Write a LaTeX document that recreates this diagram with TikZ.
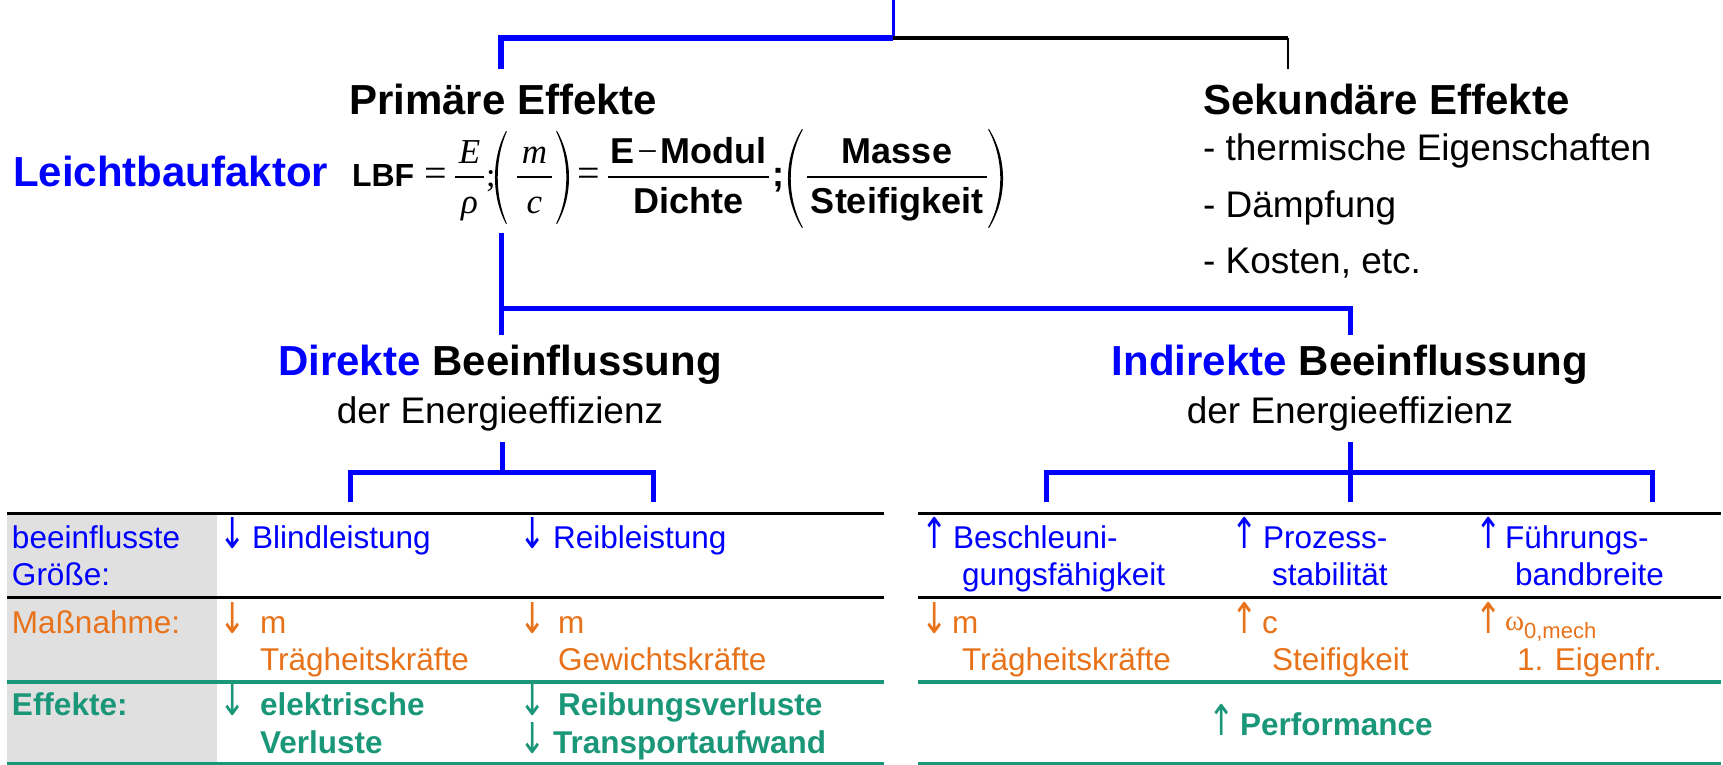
\documentclass[tikz,border=0pt]{standalone}
\usepackage{graphicx}
\usepackage{fontspec}
\setmainfont{Liberation Sans}
\newfontfamily\tms{Liberation Serif}
\newfontfamily\arr{DejaVu Sans}
\newcommand{\dnarr}{\raisebox{0pt}[\height][0pt]{\scalebox{1}[1.35]{↓}}}
\newcommand{\uparr}{\raisebox{0pt}[\height][0pt]{\scalebox{1}[1.35]{↑}}}
\definecolor{myblue}{RGB}{0,0,255}
\definecolor{myorange}{RGB}{232,114,26}
\definecolor{mygreen}{RGB}{26,150,120}
\definecolor{mygray}{RGB}{224,224,224}
\begin{document}
\begin{tikzpicture}[x=1pt,y=-1pt,
  lbl/.style={anchor=base west, inner sep=0pt, outer sep=0pt},
  ctr/.style={anchor=base, inner sep=0pt, outer sep=0pt},
  headfont/.style={font=\fontsize{42}{48}\selectfont\bfseries},
  subfont/.style={font=\fontsize{37}{44}\selectfont},
  tabfont/.style={lbl, font=\fontsize{31.5}{37}\selectfont},
  tabbold/.style={lbl, font=\fontsize{31.5}{37}\selectfont\bfseries},
  arrow/.style={lbl, font=\arr\fontsize{31.5}{37}\selectfont},
  mathit/.style={ctr, font=\tms\itshape\fontsize{35}{40}\selectfont},
  mathbf/.style={ctr, font=\fontsize{36}{40}\selectfont\bfseries},
  fbar/.style={draw=black, line width=1.5pt},
  thickblue/.style={draw=myblue, line width=6pt},
  midblue/.style={draw=myblue, line width=5pt},
  blkline/.style={draw=black, line width=3pt},
  grnline/.style={draw=mygreen, line width=4pt}]
\useasboundingbox (0,0) rectangle (1723,765);

% ---------- top bracket ----------
\coordinate (t0) at (893,0);
\coordinate (tj) at (893,38);
\coordinate (tl) at (501,38);
\coordinate (tlb) at (501,69);
\coordinate (tr) at (1288,38);
\coordinate (trb) at (1288,69);
\draw[myblue, line width=3pt] (t0) -- (tj);
\draw[black, line width=3.5pt] (tj) -- (tr);
\draw[black, line width=2pt] (tr) -- (trb);
\draw[thickblue, miter limit=10] (tlb) -- (tl) -- (tj);

% ---------- primary / secondary ----------
\node[lbl, headfont] (prim) at (349,115) {Primäre Effekte};
\node[lbl, headfont] (sek) at (1203,115) {Sekundäre Effekte};
\node[lbl, subfont] (s1) at (1203,160) {- thermische Eigenschaften};
\node[lbl, subfont] (s2) at (1203,217) {- Dämpfung};
\node[lbl, subfont] (s3) at (1203,273) {- Kosten, etc.};
\node[lbl, headfont, text=myblue] (lbfname) at (13,186) {Leichtbaufaktor};

% ---------- formula ----------
\node[lbl, font=\fontsize{32}{36}\selectfont\bfseries] (lbf) at (352,186) {LBF};
\node[ctr, font=\tms\fontsize{40}{40}\selectfont] (eq1) at (435.5,186) {=};
\node[mathit] (fE) at (469.5,163) {E};
\draw[fbar] (455,177) -- (484,177);
\node[mathit] (frho) at (469.5,213) {ρ};
\node[lbl, font=\tms\fontsize{34}{40}\selectfont] (semi1) at (486,186) {;};
\fill (506,131) .. controls (491.3,159) and (491.3,196) .. (506,224) -- (506.8,223.5) .. controls (494.7,196) and (494.7,159) .. (506.8,131.5) -- cycle;
\node[mathit] (fm) at (534.5,163) {m};
\draw[fbar] (517,177) -- (552,177);
\node[mathit] (fc) at (534.5,213) {c};
\fill (557,131) .. controls (573,159) and (573,196) .. (557,224) -- (556.2,223.5) .. controls (569.7,196) and (569.7,159) .. (556.2,131.5) -- cycle;
\node[ctr, font=\tms\fontsize{40}{40}\selectfont] (eq2) at (588.5,186) {=};
\node[mathbf] (fnum3) at (688.5,163) {E\hspace{3pt}{\tms\mdseries −}\hspace{3pt}Modul};
\draw[fbar] (608,177) -- (769,177);
\node[mathbf] (fden3) at (688.5,213) {Dichte};
\node[lbl, font=\fontsize{36}{40}\selectfont\bfseries] (semi2) at (772,186) {;};
\fill (802,129) .. controls (783.3,159) and (783.3,198) .. (802,228) -- (802.8,227.5) .. controls (786.7,198) and (786.7,159) .. (802.8,129.5) -- cycle;
\node[mathbf] (fnum4) at (897,163) {Masse};
\draw[fbar] (807,177) -- (987,177);
\node[mathbf] (fden4) at (897,213) {Steifigkeit};
\fill (989,129) .. controls (1007.7,159) and (1007.7,198) .. (989,228) -- (988.2,227.5) .. controls (1004.3,198) and (1004.3,159) .. (988.2,129.5) -- cycle;

% ---------- second bracket ----------
\coordinate (p0) at (501,233);
\coordinate (pj) at (501,308);
\coordinate (pr) at (1350,308);
\coordinate (pl) at (501,335);
\coordinate (prb) at (1350,335);
\draw[midblue] (p0) -- (pl);
\draw[midblue] (pj) -- (pr) -- (prb);

% ---------- direct / indirect ----------
\node[ctr, headfont] (dir) at (500,375) {\textcolor{myblue}{Direkte} Beeinflussung};
\node[ctr, subfont] (dirsub) at (500,423) {der Energieeffizienz};
\node[ctr, headfont] (ind) at (1350,375) {\textcolor{myblue}{Indirekte} Beeinflussung};
\node[ctr, subfont] (indsub) at (1350,423) {der Energieeffizienz};

% ---------- third brackets ----------
\coordinate (d0) at (502,442);
\coordinate (dj) at (502,472);
\coordinate (dl) at (350,472);
\coordinate (dlb) at (350,502);
\coordinate (dr) at (653,472);
\coordinate (drb) at (653,502);
\draw[midblue] (d0) -- (dj);
\draw[midblue] (dlb) -- (dl) -- (dr) -- (drb);
\coordinate (i0) at (1350,442);
\coordinate (ib) at (1350,502);
\coordinate (il) at (1046,472);
\coordinate (ilb) at (1046,502);
\coordinate (ir) at (1652,472);
\coordinate (irb) at (1652,502);
\draw[midblue] (i0) -- (ib);
\draw[midblue] (ilb) -- (il) -- (ir) -- (irb);

% ---------- tables ----------
\fill[mygray] (7,513) rectangle (217,764);
\draw[blkline] (7,513) -- (884,513);
\draw[blkline] (918,513) -- (1721,513);
\draw[blkline] (7,597) -- (884,597);
\draw[blkline] (918,597) -- (1721,597);
\draw[grnline] (7,682) -- (884,682);
\draw[grnline] (918,682) -- (1721,682);
\draw[draw=mygreen, line width=2.5pt] (7,763.5) -- (884,763.5);
\draw[draw=mygreen, line width=2.5pt] (918,763.5) -- (1721,763.5);

% row labels
\node[tabfont, text=myblue] (r1a) at (12,548) {beeinflusste};
\node[tabfont, text=myblue] (r1b) at (12,585) {Größe:};
\node[tabfont, text=myorange] (r2a) at (12,633) {Maßnahme:};
\node[tabbold, text=mygreen] (r3a) at (12,715) {Effekte:};

% left table, row 1
\node[arrow, text=myblue] (a11) at (219,548) {\dnarr};
\node[tabfont, text=myblue] (b11) at (252,548) {Blindleistung};
\node[arrow, text=myblue] (a12) at (519,548) {\dnarr};
\node[tabfont, text=myblue] (b12) at (553,548) {Reibleistung};
% left table, row 2
\node[arrow, text=myorange] (a21) at (219,633) {\dnarr};
\node[tabfont, text=myorange] (b21) at (260,633) {m};
\node[tabfont, text=myorange] (c21) at (260,670) {Trägheitskräfte};
\node[arrow, text=myorange] (a22) at (519,633) {\dnarr};
\node[tabfont, text=myorange] (b22) at (558,633) {m};
\node[tabfont, text=myorange] (c22) at (558,670) {Gewichtskräfte};
% left table, row 3
\node[arrow, text=mygreen] (a31) at (219,715) {\dnarr};
\node[tabbold, text=mygreen] (b31) at (260,715) {elektrische};
\node[tabbold, text=mygreen] (c31) at (260,753) {Verluste};
\node[arrow, text=mygreen] (a32) at (519,715) {\dnarr};
\node[tabbold, text=mygreen] (b32) at (558,715) {Reibungsverluste};
\node[arrow, text=mygreen] (a33) at (519,753) {\dnarr};
\node[tabbold, text=mygreen] (b33) at (553,753) {Transportaufwand};

% right table, row 1
\node[arrow, text=myblue] (e11) at (921,548) {\uparr};
\node[tabfont, text=myblue] (f11) at (953,548) {Beschleuni-};
\node[tabfont, text=myblue] (g11) at (962,585) {gungsfähigkeit};
\node[arrow, text=myblue] (e12) at (1231,548) {\uparr};
\node[tabfont, text=myblue] (f12) at (1263,548) {Prozess-};
\node[tabfont, text=myblue] (g12) at (1272,585) {stabilität};
\node[arrow, text=myblue] (e13) at (1475,548) {\uparr};
\node[tabfont, text=myblue] (f13) at (1505,548) {Führungs-};
\node[tabfont, text=myblue] (g13) at (1515,585) {bandbreite};
% right table, row 2
\node[arrow, text=myorange] (e21) at (921,633) {\dnarr};
\node[tabfont, text=myorange] (f21) at (952,633) {m};
\node[tabfont, text=myorange] (g21) at (962,670) {Trägheitskräfte};
\node[arrow, text=myorange] (e22) at (1231,633) {\uparr};
\node[tabfont, text=myorange] (f22) at (1262,633) {c};
\node[tabfont, text=myorange] (g22) at (1272,670) {Steifigkeit};
\node[arrow, text=myorange] (e23) at (1475,633) {\uparr};
\node[lbl, text=myorange] (f23) at (1505,630) {{\tms\fontsize{29}{30}\selectfont ω}\raisebox{-8pt}{\fontsize{22}{24}\selectfont 0,mech}};
\node[tabfont, text=myorange] (g23) at (1517,670) {1. Eigenfr.};
% right table, row 3
\node[arrow, text=mygreen] (e31) at (1208,735) {\uparr};
\node[tabbold, text=mygreen] (f31) at (1240,735) {Performance};
\end{tikzpicture}
\end{document}
